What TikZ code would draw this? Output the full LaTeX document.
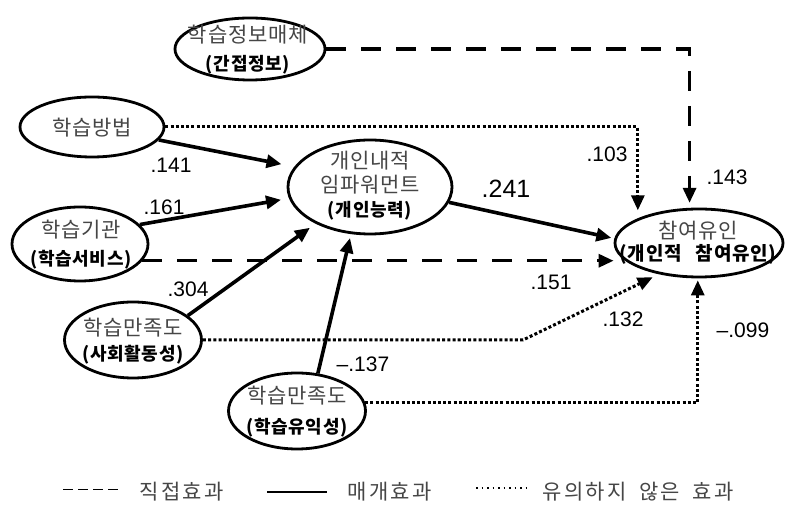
\documentclass[tikz,border=0pt]{standalone}
\usepackage{fontspec}
\setmainfont{Liberation Sans}
\newfontfamily\krfont{Noto Sans CJK KR}[LetterSpace=4]
\newfontfamily\krleg{Noto Sans CJK KR}[LetterSpace=12]
\usetikzlibrary{arrows.meta,shapes.geometric}

\definecolor{textgray}{RGB}{70,70,70}
\newcommand{\krreg}[1]{{\fontsize{21}{25}\selectfont\color{textgray}#1}}
\newcommand{\krbold}[1]{{\fontsize{18}{20}\selectfont\bfseries #1}}

\begin{document}
\begin{tikzpicture}[x=1pt,y=1pt,
  oval/.style={draw, ellipse, line width=2.8pt, inner sep=0pt},
  txt/.style={align=center, inner sep=0pt, font=\krfont\fontsize{21}{25}\selectfont},
  numlab/.style={inner sep=0pt, font=\fontsize{21}{24}\selectfont},
  legtxt/.style={inner sep=0pt, anchor=west, text=textgray, font=\krleg\fontsize{21}{24}\selectfont},
  tip/.style={-{Triangle[length=15pt,width=13pt]}},
  direct/.style={tip, line width=3.2pt, dash pattern=on 20pt off 15pt},
  mediate/.style={tip, line width=3.6pt},
  nonsig/.style={tip, line width=3pt, dash pattern=on 3pt off 2.2pt}]
\path[use as bounding box, fill=white] (0,0) rectangle (785,506);

% ellipses
\node[oval, minimum width=150pt, minimum height=62pt] (info) at (250,457) {};
\node[oval, minimum width=144pt, minimum height=60pt] (method) at (92,379) {};
\node[oval, minimum width=164pt, minimum height=94pt] (emp) at (370,319) {};
\node[oval, minimum width=136pt, minimum height=74pt] (inst) at (80,262) {};
\node[oval, minimum width=168pt, minimum height=68pt] (part) at (699,263) {};
\node[oval, minimum width=137pt, minimum height=76pt] (social) at (133,166) {};
\node[oval, minimum width=137pt, minimum height=76pt] (useful) at (297,95) {};

% texts in the ellipses
\node[txt] (info-txt) at (248,456) {\krreg{학습정보매체}\\[3pt]\krbold{(간접정보)}};
\node[txt] (method-txt) at (92,378) {\krreg{학습방법}};
\node[txt] (emp-txt) at (370,320) {\krreg{개인내적}\\[-1pt]\krreg{임파워먼트}\\[-1pt]\krbold{(개인능력)}};
\node[txt] (inst-txt) at (81,261) {\krreg{학습기관}\\[3pt]\krbold{(학습서비스)}};
\node[txt] (part-txt) at (698,263) {\krreg{참여유인}\\[-3pt]{\fontsize{19}{20}\selectfont\bfseries (개인적\hspace{14pt}참여유인)}};
\node[txt] (social-txt) at (133,165) {\krreg{학습만족도}\\[0pt]\krbold{(사회활동성)}};
\node[txt] (useful-txt) at (297,94) {\krreg{학습만족도}\\[5pt]\krbold{(학습유익성)}};

% paths
\draw[direct, shorten >=5pt] (info.east) -| (part.105);
\draw[nonsig, shorten >=8pt] (method.east) -| (part.158);
\draw[mediate, shorten >=13pt] (method.-11) -- (emp.165);
\draw[mediate, shorten >=8pt] (inst.18) -- (emp.188);
\draw[direct] (inst.-15) -- (inst.-15 -| part.west);
\draw[mediate, shorten >=3pt] (emp.-11) -- (part.177);
\draw[mediate, shorten >=7pt] (social.24) -- (emp.214);
\draw[mediate, shorten >=4pt] (useful.61) -- (emp.248);
\coordinate (socbend) at (523,168);
\draw[nonsig, shorten >=7pt] (social.east) -- (social.east -| socbend) -- (part.218);
\draw[nonsig, shorten >=2pt] (useful.7) -| (part.268);

% coefficients
\node[numlab] (c141) at (171,341) {.141};
\node[numlab] (c161) at (164,299) {.161};
\node[numlab, font=\fontsize{25}{28}\selectfont] (c241) at (506,317) {.241};
\node[numlab] (c103) at (607,352) {.103};
\node[numlab] (c143) at (727,329) {.143};
\node[numlab] (c151) at (551,224) {.151};
\node[numlab] (c132) at (623,187) {.132};
\node[numlab] (c099) at (743,176) {\textendash.099};
\node[numlab] (c304) at (188,217) {.304};
\node[numlab] (c137) at (363,142) {\textendash.137};

% legend
\draw[line width=1pt, dash pattern=on 10pt off 5pt] (63,16) -- (122,16);
\node[legtxt] (leg-direct) at (139,14) {직접효과};
\draw[line width=2.6pt] (267,14) -- (327,14);
\node[legtxt] (leg-mediate) at (347,14) {매개효과};
\draw[line width=1.5pt, dash pattern=on 1.5pt off 4pt] (476,18) -- (529,18);
\node[legtxt] (leg-nonsig) at (542,14) {유의하지\hspace{12pt}않은\hspace{12pt}효과};
\end{tikzpicture}
\end{document}
